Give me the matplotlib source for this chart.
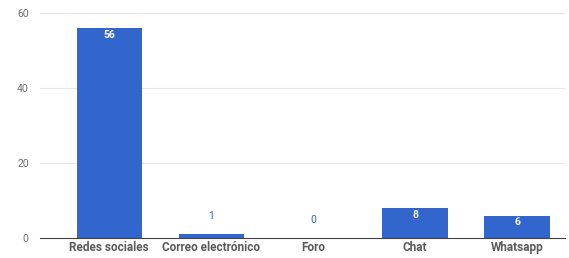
import matplotlib.pyplot as plt

canales = ["Redes sociales", "Correo electrónico", "Foro", "Chat", "Whatsapp"]
respuestas = [56, 1, 0, 8, 6]

plt.rcParams['font.family'] = ['Roboto', 'DejaVu Sans']

fig = plt.figure(figsize=(5.69, 2.58), dpi=100)
ax = fig.add_axes([0.070, 0.0775, 0.923, 0.872])

x = range(len(canales))
bars = ax.bar(x, respuestas, width=0.64, color="#3366CC", zorder=2)

for b, v in zip(bars, respuestas):
    cx = b.get_x() + b.get_width() / 2
    if v >= 5:
        ax.text(cx, v - 0.5, str(v), ha="center", va="top", color="white",
                fontsize=7.5, fontweight="bold")
    else:
        ax.text(cx, v + 3.5, str(v), ha="center", va="bottom", color="#3366CC",
                fontsize=7.5)

ax.set_xlim(-0.68, 4.47)
ax.set_ylim(0, 60)
ax.set_yticks([0, 20, 40, 60])
ax.set_xticks(list(x))
ax.set_xticklabels(canales, fontsize=8.5, fontweight="bold", color="#5a5a5a")
ax.tick_params(axis="y", length=0, labelsize=7.5, labelcolor="#6e6e6e", pad=8)
ax.tick_params(axis="x", length=0, pad=2)
ax.grid(axis="y", color="#e6e6e6", linewidth=0.8, zorder=0)
for s in ["top", "right", "left"]:
    ax.spines[s].set_visible(False)
ax.spines["bottom"].set_color("#444444")
ax.spines["bottom"].set_linewidth(0.8)
ax.spines["bottom"].set_zorder(3)

fig.savefig("out.png", dpi=100)
